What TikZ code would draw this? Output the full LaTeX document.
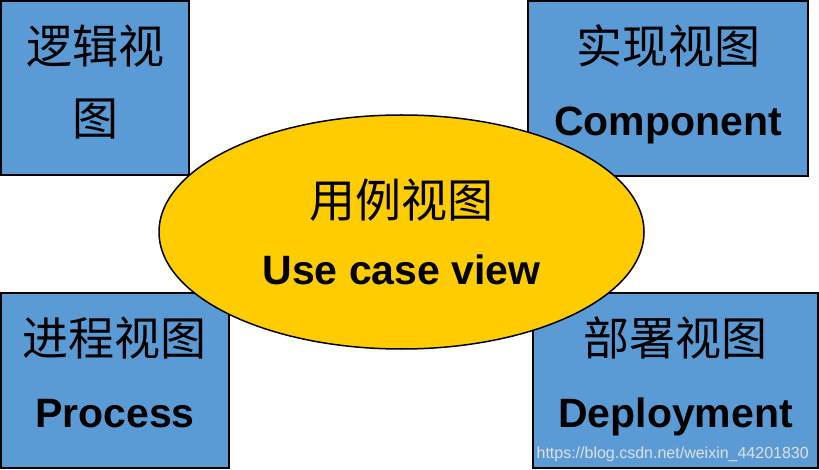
\documentclass[tikz,border=0pt]{standalone}
\usepackage{fontspec}
\setmainfont{Liberation Sans}
\newfontfamily\cjk{Noto Sans CJK SC}
\usetikzlibrary{shapes.geometric,positioning}

\definecolor{viewblue}{RGB}{91,155,213}
\definecolor{caseyellow}{RGB}{255,204,0}
\definecolor{urlgray}{RGB}{222,224,228}
\newcommand{\zh}[1]{{\cjk\mdseries\fontsize{46}{46}\selectfont #1}}

\begin{document}
\begin{tikzpicture}[
  x=1pt, y=-1pt,
  font=\fontsize{41}{72}\selectfont\bfseries,
  viewbox/.style={draw, line width=2pt, fill=viewblue, align=center,
    inner sep=0pt, execute at end node={\rule[-16.5pt]{0pt}{0pt}}},
  usecase/.style={draw, ellipse, line width=1.5pt, fill=caseyellow,
    inner sep=0pt, minimum width=485pt, minimum height=234pt, align=center,
    font=\fontsize{41}{67}\selectfont\bfseries},
  watermark/.style={font=\fontsize{16}{16}\selectfont\mdseries,
    text=urlgray, inner sep=0pt}
]
\useasboundingbox (0,0) rectangle (819,470);

% the four views round the use case view
\node[viewbox, minimum width=188pt, minimum height=174pt] (logical) at (95,88)
  {\zh{逻辑视}\\\zh{图}};
\node[viewbox, minimum width=280pt, minimum height=175pt] (impl) at (668,88.5)
  {\zh{实现视图}\\Component};
\node[viewbox, minimum width=228pt, minimum height=175pt] (process) at (115,380.5)
  {\zh{进程视图}\\Process};
\node[viewbox, minimum width=285pt, minimum height=175pt] (deploy) at (675.5,380.5)
  {\zh{部署视图}\\Deployment};

\node[usecase] (usecase) at (401.5,232) {\zh{用例视图}\\Use case view};

\node[watermark, anchor=base east] (url)
  at ([xshift=-10pt, yshift=11pt]deploy.south east)
  {https://blog.csdn.net/weixin\_44201830};
\end{tikzpicture}
\end{document}
